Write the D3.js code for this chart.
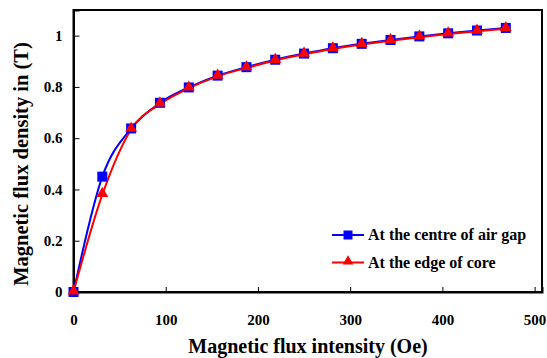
<!DOCTYPE html>
<html><head><meta charset="utf-8">
<script src="https://cdn.jsdelivr.net/npm/d3@7"></script>
<style>body{margin:0;background:#fff}svg{display:block}svg text{font-family:"Liberation Serif","Times New Roman",Times,"DejaVu Serif",serif !important;font-weight:bold}</style>
</head><body><svg id="c" width="547" height="358"></svg>
<script>
const xValues = [0, 31.25, 62.5, 93.75, 125, 156.25, 187.5, 218.75, 250, 281.25, 312.5, 343.75, 375, 406.25, 437.5, 468.75];
const centreGap = [0, 0.45, 0.638, 0.738, 0.798, 0.844, 0.877, 0.906, 0.93, 0.951, 0.968, 0.983, 0.997, 1.009, 1.02, 1.03];
const edgeCore = [0, 0.38, 0.634, 0.733, 0.795, 0.841, 0.874, 0.903, 0.927, 0.948, 0.965, 0.98, 0.994, 1.006, 1.017, 1.027];
const xTicks = [0, 100, 200, 300, 400, 500];
const yTicks = [0, 0.2, 0.4, 0.6, 0.8, 1];
const seriesNames = ["At the centre of air gap", "At the edge of core"];

const svg = d3.select("#c");
const L = 73.5, R = 542, T = 10, B = 292;
const x = d3.scaleLinear().domain([0, 508]).range([L, R]);
const y = d3.scaleLinear().domain([0, 1.1]).range([B, T]);

svg.append("rect").attr("x", L).attr("y", T).attr("width", R - L).attr("height", B - T)
  .attr("fill", "none").attr("stroke", "#000").attr("stroke-width", 2);

const gx = svg.append("g").attr("transform", `translate(0,${B})`)
  .call(d3.axisBottom(x).tickValues(xTicks).tickSize(-5).tickPadding(22).tickFormat(d3.format("d")));
gx.attr("font-family", null);
gx.select(".domain").attr("stroke-width", 2);
gx.selectAll("text").attr("font-size", 15);

const gy = svg.append("g").attr("transform", `translate(${L},0)`)
  .call(d3.axisLeft(y).tickValues(yTicks).tickSize(-6).tickPadding(11).tickFormat(d => d === 0 ? "0" : (d === 1 ? "1" : d3.format(".1f")(d))));
gy.attr("font-family", null);
gy.select(".domain").attr("stroke-width", 2);
gy.selectAll("text").attr("font-size", 15);

svg.append("text").attr("x", 308).attr("y", 353).attr("text-anchor", "middle").attr("font-size", 20)
  .text("Magnetic flux intensity (Oe)");
svg.append("text").attr("transform", `translate(28,164) rotate(-90)`).attr("text-anchor", "middle").attr("font-size", 20.5)
  .text("Magnetic flux density in (T)");

const line = d3.line().curve(d3.curveCardinal.tension(0)).x(d => x(d[0])).y(d => y(d[1]));
const blueData = xValues.map((v, i) => [v, centreGap[i]]);
const redData = xValues.map((v, i) => [v, edgeCore[i]]);

svg.append("path").datum(blueData).attr("d", line).attr("fill", "none").attr("stroke", "#0000ff").attr("stroke-width", 2);
svg.append("path").datum(redData).attr("d", line).attr("fill", "none").attr("stroke", "#ff0000").attr("stroke-width", 2);

const sq = 10;
svg.append("g").selectAll("rect").data(blueData).join("rect")
  .attr("x", d => x(d[0]) - sq / 2).attr("y", d => y(d[1]) - sq / 2).attr("width", sq).attr("height", sq).attr("fill", "#0000ff");
const tri = d3.symbol().type(d3.symbolTriangle).size(60);
svg.append("g").selectAll("path").data(redData).join("path")
  .attr("d", tri).attr("transform", d => `translate(${x(d[0])},${y(d[1]) - 1})`).attr("fill", "#ff0000");

const lg = svg.append("g");
[[0, "#0000ff", "sq"], [1, "#ff0000", "tri"]].forEach(([i, c, m]) => {
  const ly = 235 + i * 27.5;
  lg.append("line").attr("x1", 332).attr("x2", 364).attr("y1", ly).attr("y2", ly).attr("stroke", c).attr("stroke-width", 2);
  if (m === "sq") lg.append("rect").attr("x", 343.5).attr("y", ly - 4.5).attr("width", 9).attr("height", 9).attr("fill", c);
  else lg.append("path").attr("d", d3.symbol().type(d3.symbolTriangle).size(50)).attr("transform", `translate(348,${ly - 1})`).attr("fill", c);
  lg.append("text").attr("x", 368).attr("y", ly + 5).attr("font-size", 16).text(seriesNames[i]);
});
</script></body></html>
